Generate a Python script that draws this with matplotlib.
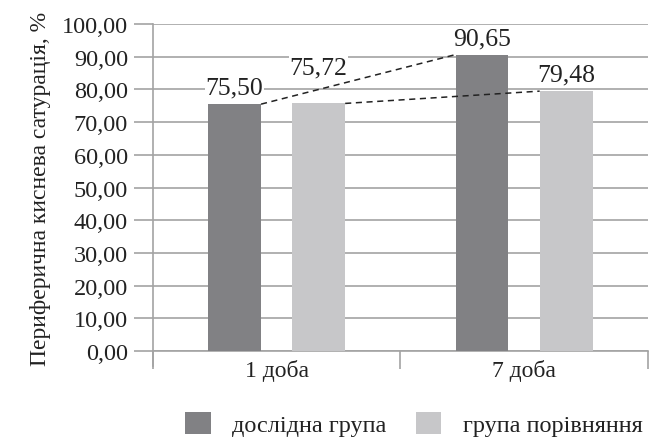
import matplotlib.pyplot as plt
from matplotlib.ticker import FuncFormatter

plt.rcParams['font.family'] = ['Liberation Serif', 'DejaVu Serif']

# SpO2 by day for both groups
days = ["1 доба", "7 доба"]
study_group = [75.50, 90.65]
control_group = [75.72, 79.48]
series_names = ["дослідна група", "група порівняння"]

dark = "#818184"
light = "#c7c7c9"
grid_col = "#a3a3a3"

fig = plt.figure(figsize=(6.59, 4.39), dpi=100)
ax = fig.add_axes([0.232, 0.198, 0.751, 0.745])

x = list(range(len(days)))
w = 0.214
off = 0.17
b1 = ax.bar([i - off for i in x], study_group, w, color=dark, label=series_names[0], zorder=3)
b2 = ax.bar([i + off for i in x], control_group, w, color=light, label=series_names[1], zorder=3)

def fmt(v):
    return f"{v:.2f}".replace(".", ",")

# value labels; the day-1 control label is lifted to clear the connector line
lifts = {(1, 0): 6.0}
for k, (bars, vals) in enumerate(((b1, study_group), (b2, control_group))):
    for j, (r, v) in enumerate(zip(bars, vals)):
        ax.text(r.get_x() + r.get_width() / 2, v + 1.6 + lifts.get((k, j), 0), fmt(v),
                ha="center", va="bottom", fontsize=18.5, color="#222222", zorder=5,
                bbox=dict(facecolor="white", edgecolor="none", pad=0.5))

# dashed connectors between matching bars of day 1 and day 7
for bars, vals in ((b1, study_group), (b2, control_group)):
    xa = bars[0].get_x() + bars[0].get_width()
    xb = bars[1].get_x()
    ax.plot([xa, xb], [vals[0], vals[1]], ls=(0, (4, 3)), color="#222222", lw=1.1, zorder=4)

ax.set_xlim(-0.5, 1.5)
ax.set_ylim(0, 100)
ax.set_yticks(range(0, 101, 10))
ax.yaxis.set_major_formatter(FuncFormatter(lambda v, p: fmt(v)))
ax.set_xticks(x)
ax.set_xticklabels(days)
ax.set_xticks([-0.5, 0.5, 1.5], minor=True)
ax.tick_params(axis="x", which="major", length=0, pad=6, labelsize=17)
ax.tick_params(axis="x", which="minor", length=13, color=grid_col, width=1.2)
ax.tick_params(axis="y", length=14, color=grid_col, width=1.2, labelsize=17.5, pad=4)

ax.grid(axis="y", color=grid_col, lw=1.2, zorder=0)
for s in ("top", "right"):
    ax.spines[s].set_visible(False)
for s in ("left", "bottom"):
    ax.spines[s].set_color(grid_col)
    ax.spines[s].set_linewidth(1.2)
ax.spines["left"].set_bounds(-4.5, 100)

ax.set_ylabel("Периферична киснева сатурація, %", fontsize=17, labelpad=8, color="#222222")
for t in ax.get_xticklabels() + ax.get_yticklabels():
    t.set_color("#222222")

fig.legend(handles=[b1, b2], labels=series_names, loc="center left",
           bbox_to_anchor=(185 / 659, 1 - 425 / 439), ncol=2, frameon=False, fontsize=17.5,
           handlelength=1.05, handleheight=1.05, columnspacing=1.2, handletextpad=0.9,
           borderpad=0, borderaxespad=0, labelcolor="#222222")

fig.savefig("out.png", dpi=100)
